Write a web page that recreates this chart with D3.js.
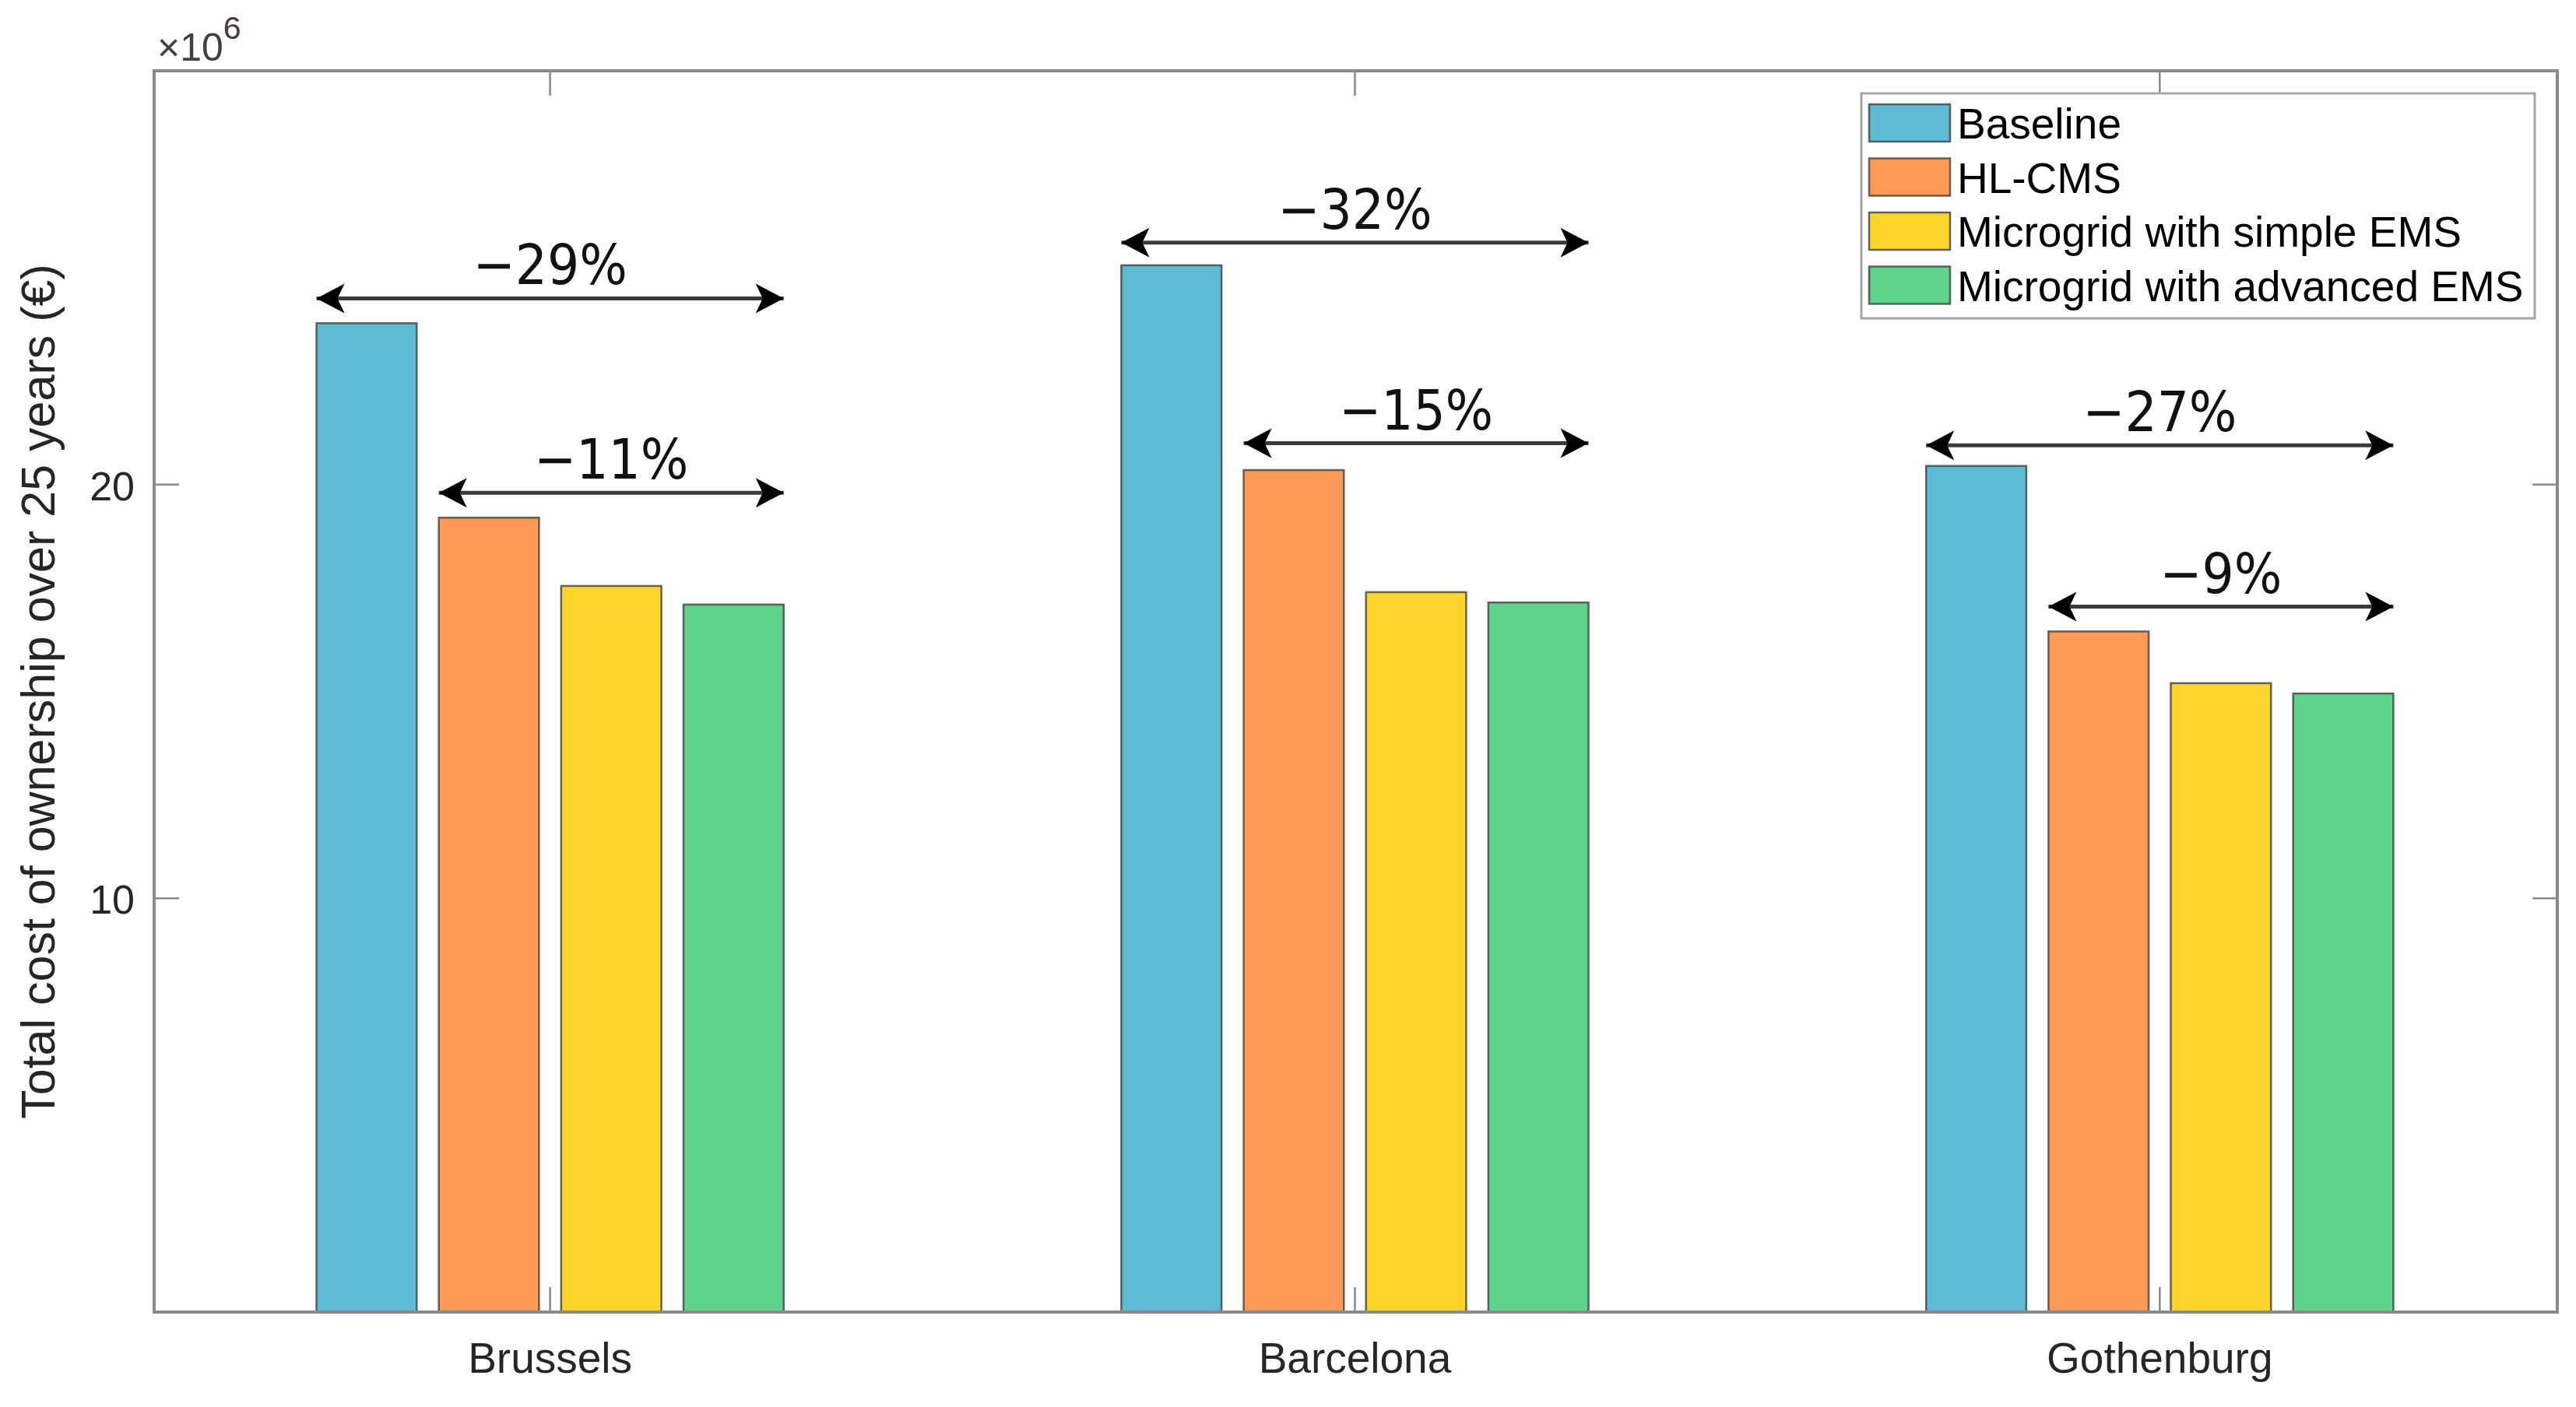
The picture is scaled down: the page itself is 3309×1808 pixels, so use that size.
<!DOCTYPE html>
<html>
<head>
<meta charset="utf-8">
<script src="https://cdn.jsdelivr.net/npm/d3@7"></script>
<style>
body { margin: 0; background: #fff; }
text { font-family: "Liberation Sans", Arial, sans-serif; fill: #262626; }
</style>
</head>
<body>
<script>
var cities = ["Brussels", "Barcelona", "Gothenburg"];
var seriesNames = ["Baseline", "HL-CMS", "Microgrid with simple EMS", "Microgrid with advanced EMS"];
// total cost of ownership, x10^6 EUR
var baseline = [23.9, 25.3, 20.45];
var hlcms = [19.2, 20.35, 16.45];
var simpleEms = [17.55, 17.4, 15.2];
var advancedEms = [17.1, 17.15, 14.95];
var yTicks = [10, 20];
var colors = ["#5fbbd3", "#fe9a55", "#fdd52a", "#5ed48a"];

// annotation arrows: city, first and last series spanned, height, label
var annCity = [0, 0, 1, 1, 2, 2];
var annFrom = [0, 1, 0, 1, 0, 1];
var annTo = [3, 3, 3, 3, 3, 3];
var annY = [24.5, 19.8, 25.85, 21.0, 20.95, 17.05];
var annLabel = ["\u221229%", "\u221211%", "\u221232%", "\u221215%", "\u221227%", "\u22129%"];

var series = [baseline, hlcms, simpleEms, advancedEms];

var W = 3309, H = 1808;
var pLeft = 198, pRight = 3285, pTop = 91, pBottom = 1686;
var barStep = 0.152, barW = 0.1245;

var svg = d3.select("body").append("svg")
    .attr("width", W)
    .attr("height", H);

var x = d3.scaleLinear().domain([0.508, 3.494]).range([pLeft, pRight]);
var y = d3.scaleLinear().domain([0, 30]).range([pBottom, pTop]);

function barX(ci, si) {
  return x(ci + 1 + (si - 1.5) * barStep - barW / 2);
}

// bars
series.forEach(function(vals, si) {
  svg.append("g").selectAll("rect")
     .data(vals)
     .enter()
     .append("rect")
     .attr("x", function(d, i) { return barX(i, si); })
     .attr("y", function(d) { return y(d); })
     .attr("width", x(barW) - x(0))
     .attr("height", function(d) { return y(0) - y(d); })
     .attr("fill", colors[si])
     .attr("stroke", "#404040")
     .attr("stroke-opacity", 0.8)
     .attr("stroke-width", 2.5);
});

// axes box and ticks
var axisCol = "#8a8a8a";
svg.append("rect")
   .attr("x", pLeft).attr("y", pTop)
   .attr("width", pRight - pLeft).attr("height", pBottom - pTop)
   .attr("fill", "none")
   .attr("stroke", axisCol)
   .attr("stroke-width", 4);

var tl = 32;
var xt = svg.append("g");
cities.forEach(function(c, i) {
  var xx = x(i + 1);
  xt.append("line").attr("x1", xx).attr("x2", xx).attr("y1", pBottom).attr("y2", pBottom - tl)
    .attr("stroke", axisCol).attr("stroke-width", 2.5);
  xt.append("line").attr("x1", xx).attr("x2", xx).attr("y1", pTop).attr("y2", pTop + tl)
    .attr("stroke", axisCol).attr("stroke-width", 2.5);
  xt.append("text").attr("x", xx).attr("y", pBottom + 78)
    .attr("text-anchor", "middle")
    .attr("font-size", "55px")
    .text(c);
});

var yt = svg.append("g");
yTicks.forEach(function(t) {
  var yy = y(t);
  yt.append("line").attr("x1", pLeft).attr("x2", pLeft + tl).attr("y1", yy).attr("y2", yy)
    .attr("stroke", axisCol).attr("stroke-width", 2.5);
  yt.append("line").attr("x1", pRight).attr("x2", pRight - tl).attr("y1", yy).attr("y2", yy)
    .attr("stroke", axisCol).attr("stroke-width", 2.5);
  yt.append("text").attr("x", pLeft - 25).attr("y", yy + 20)
    .attr("text-anchor", "end")
    .attr("font-size", "52px")
    .text(t);
});

// exponent
var ex = svg.append("text").attr("x", pLeft + 4).attr("y", 78).attr("font-size", "50px")
    .style("fill", "#404040");
ex.append("tspan").text("\u00d710");
ex.append("tspan").attr("dy", -28).attr("font-size", "41px").text("6");

// y label
svg.append("text")
   .attr("transform", "translate(70," + ((pTop + pBottom) / 2) + ") rotate(-90)")
   .attr("text-anchor", "middle")
   .attr("font-size", "61px")
   .text("Total cost of ownership over 25 years (\u20ac)");

// arrows
var defs = svg.append("defs");
defs.append("marker")
    .attr("id", "head")
    .attr("viewBox", "-38 -20 40 40")
    .attr("refX", 0).attr("refY", 0)
    .attr("markerUnits", "userSpaceOnUse")
    .attr("markerWidth", 40).attr("markerHeight", 40)
    .attr("orient", "auto-start-reverse")
    .append("path")
    .attr("d", "M0,0 L-36,-19 L-27,0 L-36,19 Z")
    .attr("fill", "#000");

var ann = svg.append("g");
annLabel.forEach(function(lbl, k) {
  var ci = annCity[k];
  var x1 = barX(ci, annFrom[k]);
  var x2 = barX(ci, annTo[k]) + (x(barW) - x(0));
  var yy = y(annY[k]);
  ann.append("line")
     .attr("x1", x1).attr("x2", x2).attr("y1", yy).attr("y2", yy)
     .attr("stroke", "#3a3a3a").attr("stroke-width", 5)
     .attr("marker-start", "url(#head)")
     .attr("marker-end", "url(#head)");
  ann.append("text")
     .attr("x", (x1 + x2) / 2).attr("y", yy - 18)
     .attr("text-anchor", "middle")
     .attr("font-size", "72px")
     .style("font-family", "'DejaVu Sans Condensed', 'DejaVu Sans', sans-serif")
     .style("font-stretch", "condensed")
     .style("fill", "#111")
     .text(lbl);
});

// legend
var lg = svg.append("g");
lg.append("rect")
  .attr("x", 2391).attr("y", 120)
  .attr("width", 865).attr("height", 289)
  .attr("fill", "#fff")
  .attr("stroke", "#a6a6a6")
  .attr("stroke-width", 3);
seriesNames.forEach(function(name, i) {
  var cy = 158 + i * 69.5;
  lg.append("rect")
    .attr("x", 2401).attr("y", cy - 24)
    .attr("width", 104).attr("height", 48)
    .attr("fill", colors[i])
    .attr("stroke", "#404040")
    .attr("stroke-opacity", 0.8)
    .attr("stroke-width", 2.5);
  lg.append("text")
    .attr("x", 2514).attr("y", cy + 20)
    .attr("font-size", "55px")
    .style("fill", "#000")
    .text(name);
});
</script>
</body>
</html>
